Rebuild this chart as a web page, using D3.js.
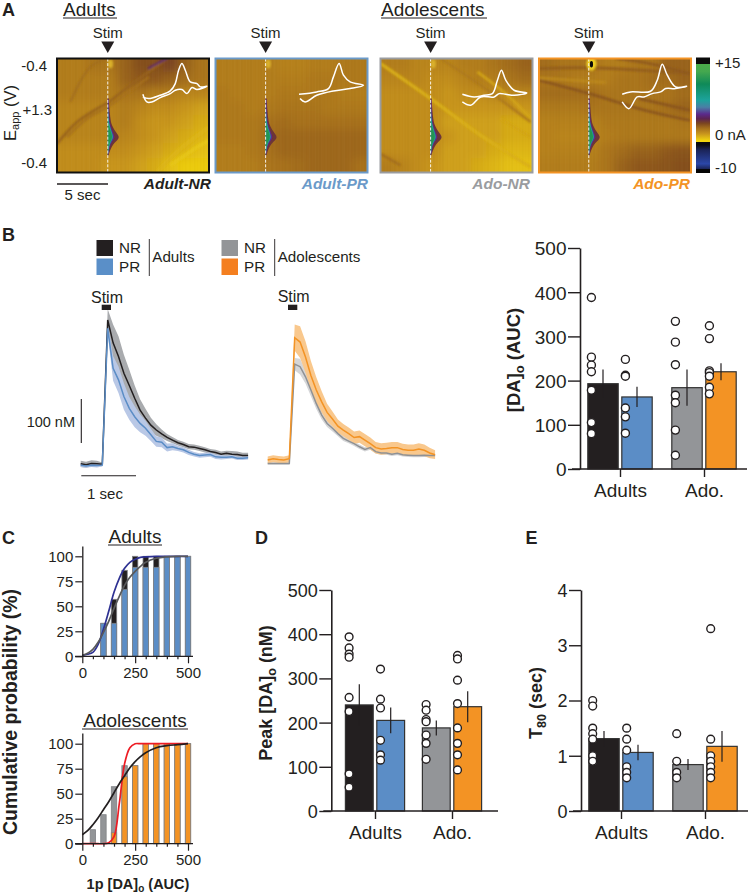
<!DOCTYPE html>
<html><head><meta charset="utf-8">
<script src="https://cdnjs.cloudflare.com/ajax/libs/d3/7.8.5/d3.min.js"></script>
<style>
html,body{margin:0;padding:0;background:#fff}
svg{display:block}
text{font-family:"Liberation Sans",Arial,sans-serif;fill:#231f20}
</style></head><body><svg id="c" width="748" height="895"></svg>
<script>
// ---------- data ----------
const groups=["Adults","Ado."], kinds=["NR","PR"];
const colBlack="#231f20",colBlue="#5b8dc6",colGrey="#939598",colOrange="#f39324";
const aucMeans=[193,163,184,220], aucErr=[32,23,41,19];
const aucPts=[[388,253,235,220,178,105,80],[248,212,210,138,118,81],[334,287,236,167,150,88,31],[324,295,222,218,210,185,170]];
const peakMeans=[240,205,188,236], peakErr=[47,29,17,35];
const peakPts=[[394,369,355,348,257,225,84,54],[321,253,233,160,127,115],[241,228,207,202,172,153,117],[352,344,296,243,188,153,127,93]];
const t80Means=[1.31,1.06,0.84,1.17], t80Err=[0.14,0.14,0.1,0.28];
const t80Pts=[[2.0,1.9,1.5,1.4,1.3,1.0,0.9],[1.5,1.3,1.1,0.8,0.7,0.6],[1.4,0.9,0.7,0.6],[3.3,1.3,1.0,0.9,0.8,0.7,0.6]];
// traces, one value per 0.1 s starting at -0.4 s
const traceTime=d3.range(-4,28).map(d=>d/10);
const trBlack=[1,-1,2,1,0,328,276,245,207,179,150,123,105,89,78,69,61,55,49,45,40,39,36,33,29,27,23,25,23,22,20,20];
const errBlack=[7,7,7,7,4,25,42,46,42,36,29,25,21,17,13,10,8,7,6,6,6,6,6,6,6,6,6,6,7,7,6,6];
const trBlue=[-2,-4,-2,-3,-2,309,218,192,154,127,108,93,82,67,52,50,38,40,36,33,27,23,20,21,22,17,16,16,17,14,14,15];
const errBlue=[4,4,4,4,3,12,28,30,30,26,24,20,17,14,12,11,9,8,6,6,6,5,5,5,5,5,5,4,4,4,4,4];
const trGrey2=[0,0,0,0,0,226,220,197,167,136,110,91,80,68,57,51,45,38,32,36,27,24,24,21,23,20,19,18,18,19,18,18];
const errGrey2=[3,3,3,3,3,14,18,15,14,12,10,8,7,6,6,5,5,5,5,5,4,4,4,4,4,4,4,4,4,4,4,4];
const trOrange=[8,11,9,8,11,286,276,242,200,167,140,116,101,85,76,68,59,61,53,45,36,33,34,36,36,32,30,30,33,30,24,20];
const errOrange=[8,8,8,8,8,30,36,36,33,29,24,20,17,15,14,14,14,14,14,14,13,13,13,13,13,13,13,13,13,13,12,10];
// cumulative probability
const binCentres=[50,100,150,200,250,300,350,400,450,500];
const cpBlack=[0,33,57,86,100,100,100,100,100,100];
const cpBlue=[0,33,33,67,89,89,89,100,100,100];
const cpGrey=[14,29,57,78,78,100,100,100,100,100];
const cpOrange=[0,0,11,67,78,100,100,100,100,100];
const fitX=[0,25,50,75,100,125,150,175,200,225,250,275,300,350,400,450,500];
const fitBlue=[1,2,4,12,27,45,64,78,88,94,97,99,99.5,100,100,100,100];
const fitGreyA=[1,3,7,14,24,35,48,60,71,79,85,90,94,98,99.5,100,100];
const fitRed=[0,0,0,0,0,1,7,40,80,96,100,100,100,100,100,100,100];
const fitBlackB=[9,13,19,26,34,42,51,60,68,76,82,87,91,96,98,99,100];
const cpTicks=[0,25,50,75,100];
// colour plot colour bar, position along the bar -> colour
const cbPos=[0,.055,.06,.12,.23,.37,.43,.49,.53,.57,.61,.66,.72,.73,.735,.755,.8,.92,.965,.97,1];
const cbCol=["#0a0a0a","#0a0a0a","#4bab4a","#45a84f","#0f8a58","#1da39c","#4a7fa5","#5b2a8c","#5c2352","#7b4520","#a36d1c","#c8951d","#f2d60f","#f2d60f","#0b0b12","#0b0b12","#1b2458","#2b47a8","#1b2458","#050505","#050505"];
// colour plot background (same position values), 8 rows x 10 columns
const heat1=[[.63,.63,.62,.62,.60,.58,.58,.57,.60,.62],[.63,.63,.63,.63,.60,.59,.59,.60,.61,.62],[.63,.63,.63,.63,.62,.62,.63,.63,.64,.64],[.64,.64,.64,.64,.63,.64,.65,.65,.66,.67],[.64,.64,.64,.64,.63,.65,.66,.66,.67,.68],[.64,.64,.64,.64,.64,.65,.66,.67,.68,.69],[.65,.65,.65,.65,.65,.66,.67,.68,.69,.70],[.65,.65,.65,.66,.66,.67,.68,.70,.71,.71]];
const heat2=[[.63,.63,.63,.63,.635,.635,.63,.63,.625,.625],[.63,.63,.63,.63,.63,.63,.625,.625,.625,.625],[.625,.63,.63,.63,.625,.625,.625,.625,.63,.63],[.625,.625,.63,.625,.62,.62,.62,.625,.625,.625],[.625,.625,.625,.615,.61,.615,.615,.615,.615,.615],[.625,.625,.625,.61,.605,.605,.605,.605,.605,.605],[.63,.63,.625,.615,.605,.605,.605,.605,.605,.605],[.63,.63,.63,.62,.615,.61,.605,.605,.605,.615]];
const heat3=[[.63,.63,.64,.64,.64,.63,.63,.62,.61,.60],[.64,.64,.64,.65,.65,.64,.63,.63,.62,.61],[.65,.65,.65,.65,.66,.65,.65,.64,.64,.64],[.65,.65,.65,.65,.66,.66,.66,.66,.66,.66],[.65,.65,.65,.65,.67,.67,.67,.67,.68,.68],[.65,.65,.65,.65,.66,.67,.67,.67,.68,.68],[.65,.65,.65,.65,.67,.67,.67,.68,.69,.69],[.63,.64,.65,.66,.67,.67,.68,.69,.70,.70]];
const heat4=[[.61,.62,.62,.62,.63,.63,.62,.62,.60,.60],[.62,.62,.63,.63,.63,.62,.62,.61,.61,.60],[.61,.61,.61,.61,.62,.62,.62,.62,.62,.61],[.625,.625,.625,.62,.62,.62,.62,.62,.61,.60],[.635,.635,.635,.635,.625,.625,.625,.625,.625,.62],[.635,.64,.64,.64,.63,.625,.625,.625,.625,.625],[.635,.635,.635,.635,.62,.61,.60,.60,.59,.585],[.63,.63,.63,.63,.62,.60,.59,.59,.585,.58]];
const texture=[.06,-.05,.03,.09,-.08,.02,-.03,.07,-.06,.04,-.09,.05,.01,-.04,.08,-.02,.03,-.07,.06,-.01,.04,-.05,.07];
// streaks: [position value, width, points]
const streaks1=[[.60,2.6,[[0,255],[60,190],[120,150],[155,130],[200,95],[260,50],[330,0]]],[.615,2.4,[[30,235],[90,180],[155,143],[215,100],[275,55]]],[.612,2.4,[[40,130],[100,25],[150,0]]],[.51,2,[[272,30],[300,15],[330,0]]],[.69,4,[[300,340],[370,270],[455,205]]],[.705,4,[[340,320],[420,265],[455,245]]]];
const streaks2=[];
const streaks3=[[.685,3.2,[[0,15],[150,120],[300,230],[450,325]]],[.625,2.6,[[180,0],[300,80],[450,190]]],[.61,2.6,[[0,285],[60,320]]],[.675,2.6,[[290,40],[380,110],[450,180]]],[.675,2.6,[[360,180],[450,235]]]];
const streaks4=[[.585,2.6,[[0,65],[150,105],[300,150],[452,185]]],[.595,3,[[0,30],[150,28],[452,45]]],[.645,2.6,[[0,58],[200,72]]],[.59,2.6,[[230,0],[330,15],[452,45]]],[.585,2.6,[[300,120],[452,155]]]];
// stim-evoked spot: distance below panel top, half widths of nested contours
const spotY=[120,150,175,200,220,235,245,260,290];
const spotOuter=[3,5,7,11,24,36,28,12,2];
const spotPurple=[2,3,4,7,15,22,16,6,1];
const spotTeal=[0,1,2,5,12,17,12,4,0];
const spotGreen=[0,0,0,2,10,14,10,2,0];
const contourCol=[.55,.49,.37,.19];
// voltammograms
const cv1=[[257,107],[269,130],[284,130],[309,117],[339,105],[354,95],[374,93],[389,105],[404,87],[419,93],[449,83],[429,85],[419,75],[399,70],[384,35],[374,15],[364,35],[354,75],[339,97],[309,110],[274,120],[257,115]];
const cv2=[[250,107],[303,100],[338,90],[353,55],[370,15],[383,50],[403,70],[443,80],[403,90],[353,97],[303,110],[268,130],[253,120]];
const cv3=[[245,107],[280,115],[310,110],[335,105],[350,65],[362,35],[375,65],[400,95],[438,103],[400,110],[375,107],[355,105],[340,115],[300,115],[270,140],[245,130]];
const cv4=[[249,107],[274,100],[334,98],[354,65],[369,17],[384,50],[409,85],[442,83],[409,90],[379,90],[364,100],[339,105],[314,115],[294,115],[269,150],[249,130]];

// ---------- helpers ----------
const svg=d3.select("#c");
const defs=svg.append("defs");
defs.append("filter").attr("id","blurBig").attr("x","-10%").attr("y","-10%").attr("width","120%").attr("height","120%").append("feGaussianBlur").attr("stdDeviation",5);
defs.append("filter").attr("id","blurMid").attr("x","-20%").attr("y","-20%").attr("width","140%").attr("height","140%").append("feGaussianBlur").attr("stdDeviation",1.1);
defs.append("filter").attr("id","blurSm").attr("x","-50%").attr("y","-20%").attr("width","200%").attr("height","140%").append("feGaussianBlur").attr("stdDeviation",.5);
const heatColor=d3.scaleLinear().domain(cbPos).range(cbCol).clamp(true);
function T(x,y,s,o={}){
  const t=svg.append("text").attr("x",x).attr("y",y).text(s)
   .attr("font-size",o.size||15).attr("text-anchor",o.anchor||"start");
  if(o.bold)t.attr("font-weight","bold");
  if(o.italic)t.attr("font-style","italic");
  if(o.fill)t.style("fill",o.fill);
  return t;
}
function L(x1,y1,x2,y2,w=1.2,c="#231f20"){svg.append("line").attr("x1",x1).attr("y1",y1).attr("x2",x2).attr("y2",y2).attr("stroke",c).attr("stroke-width",w);}

// ---------- panel A ----------
const panelW=152,panelH=114,panelTop=58.5;
function colourPlot(i,left,heat,streaks,cv,border,stimUnits,label,labelRight,hot){
  const g=svg.append("g").attr("transform",`translate(${left},${panelTop})`);
  const id="clip"+i;
  defs.append("clipPath").attr("id",id).append("rect").attr("width",panelW).attr("height",panelH);
  const body=g.append("g").attr("clip-path",`url(#${id})`);
  const sx=d3.scaleLinear().domain([0,455]).range([0,panelW]);
  const sy=d3.scaleLinear().domain([0,341]).range([0,panelH]);
  const cx=d3.scaleBand().domain(d3.range(10)).range([0,panelW]);
  const cy=d3.scaleBand().domain(d3.range(8)).range([0,panelH]);
  body.append("rect").attr("width",panelW).attr("height",panelH).attr("fill",heatColor(d3.mean(heat.flat())));
  const cells=body.append("g").attr("filter","url(#blurBig)");
  heat.forEach((row,r)=>row.forEach((v,c)=>{
    cells.append("rect").attr("x",cx(c)-(c==0?20:0)-.5).attr("y",cy(r)-(r==0?20:0)-.5)
      .attr("width",cx.bandwidth()+1+(c==0||c==9?20:0)).attr("height",cy.bandwidth()+1+(r==0||r==7?20:0))
      .attr("fill",heatColor(v));
  }));
  const ln=d3.line().x(d=>sx(d[0])).y(d=>sy(d[1])).curve(d3.curveCatmullRom);
  const st=body.append("g").attr("filter","url(#blurMid)");
  streaks.forEach(s=>st.append("path").attr("d",ln(s[2])).attr("fill","none").attr("stroke",heatColor(s[0])).attr("stroke-width",s[1]));
  // fine vertical texture
  const tx=d3.scaleBand().domain(d3.range(101)).range([0,panelW]);
  body.append("g").selectAll("rect").data(d3.range(101)).join("rect")
    .attr("x",d=>tx(d)).attr("width",tx.bandwidth()).attr("height",panelH)
    .attr("fill",d=>texture[(d+i*5)%texture.length]>0?"#fff":"#4a2a00")
    .attr("opacity",d=>Math.abs(texture[(d+i*5)%texture.length])*.22);
  // spot
  const a=(vals)=>d3.area().x0(sx(stimUnits)).x1((d,k)=>sx(stimUnits)+sx(vals[k])).y(d=>sy(d)).curve(d3.curveBasis)(spotY);
  const spot=body.append("g").attr("filter","url(#blurSm)");
  [spotOuter,spotPurple,spotTeal,spotGreen].forEach((v,k)=>spot.append("path").attr("d",a(v)).attr("fill",heatColor(contourCol[k])));
  // top spot
  body.append("ellipse").attr("cx",sx(stimUnits+8)).attr("cy",sy(16)).attr("rx",hot?5:2.6).attr("ry",hot?7:4.6).attr("fill",hot?"#f0d020":"#dab02a").attr("filter","url(#blurMid)");
  if(hot)body.append("ellipse").attr("cx",sx(stimUnits+8)).attr("cy",sy(17)).attr("rx",1.6).attr("ry",3.2).attr("fill","#0a0a0a");
  body.append("line").attr("x1",sx(stimUnits)).attr("x2",sx(stimUnits)).attr("y1",0).attr("y2",panelH).attr("stroke","#fff").attr("stroke-width",.9).attr("stroke-dasharray","3 1.6");
  const cvl=d3.line().x(d=>sx(d[0])).y(d=>sy(d[1])).curve(d3.curveCatmullRom);
  body.append("path").attr("d",cvl(cv)).attr("fill","none").attr("stroke","#fff").attr("stroke-width",1.5);
  g.append("rect").attr("width",panelW).attr("height",panelH).attr("fill","none").attr("stroke",border).attr("stroke-width",2);
  // Stim
  const sxp=left+sx(stimUnits);
  T(sxp,38,"Stim",{anchor:"middle",size:15});
  svg.append("path").attr("d",`M${sxp-6.5},41.5L${sxp+6.5},41.5L${sxp},53Z`).attr("fill","#231f20");
  T(labelRight,189,label,{anchor:"end",size:15.5,bold:true,italic:true,fill:border=="#111"?"#231f20":border});
}
colourPlot(1,57,heat1,streaks1,cv1,"#111",152,"Adult-NR",211);
colourPlot(2,215.5,heat2,streaks2,cv2,"#6b9ac9",150,"Adult-PR",368);
colourPlot(3,380.5,heat3,streaks3,cv3,"#9a9c9f",150,"Ado-NR",530);
colourPlot(4,539,heat4,streaks4,cv4,"#f39324",149,"Ado-PR",690,true);
// colour bar
const cbY=d3.scaleLinear().domain([0,1]).range([57.5,173]);
const cbG=defs.append("linearGradient").attr("id","cb").attr("x1",0).attr("x2",0).attr("y1",0).attr("y2",1);
cbPos.forEach((p,i)=>cbG.append("stop").attr("offset",p).attr("stop-color",cbCol[i]));
svg.append("rect").attr("x",696).attr("y",cbY(0)).attr("width",14).attr("height",cbY(1)-cbY(0)).attr("fill","url(#cb)");
T(715,68,"+15",{size:15});T(715,140,"0 nA",{size:15});T(715,173,"-10",{size:15});
T(2,16,"A",{size:18,bold:true});
T(63,16,"Adults",{size:19});L(63,18,117,18,1);
T(381,16,"Adolescents",{size:19});L(381,18,487,18,1);
T(47,71,"-0.4",{anchor:"end",size:15});T(52,115,"+1.3",{anchor:"end",size:15});T(47,168,"-0.4",{anchor:"end",size:15});
const eapp=svg.append("text").attr("transform","translate(16,141) rotate(-90)").attr("font-size",16.5);
eapp.append("tspan").text("E");eapp.append("tspan").text("app").attr("font-size",11).attr("dy",3);eapp.append("tspan").text(" (V)").attr("dy",-3);
L(57,184,108,184,1.3);T(82.5,200,"5 sec",{anchor:"middle",size:15});

// ---------- panel B ----------
T(2,241,"B",{size:18,bold:true});
function legend(sw,cols,line,title){
  svg.append("rect").attr("x",sw).attr("y",240).attr("width",16.5).attr("height",16).attr("fill",cols[0]);
  svg.append("rect").attr("x",sw).attr("y",258.5).attr("width",16.5).attr("height",16.5).attr("fill",cols[1]);
  T(sw+22.5,253,"NR",{size:15.2});T(sw+22.5,272,"PR",{size:15.2});
  L(line,239,line,276,.9);T(line+3,262,title,{size:15.2});
}
legend(96.5,[colBlack,"#5a8fc8"],149.3,"Adults");
legend(221.5,[colGrey,"#f47f20"],274.7,"Adolescents");
function traces(x0,base,c1,e1,band1,line1,c2,e2,band2,line2){
  const x=d3.scaleLinear().domain([0,1]).range([x0,x0+54]);
  const y=d3.scaleLinear().domain([0,100]).range([base,base-44]);
  const draw=(vals,errs,band)=>{
    svg.append("path").attr("d",d3.area().x((d,i)=>x(traceTime[i])).y0((d,i)=>y(d-errs[i])).y1((d,i)=>y(d+errs[i]))(vals)).attr("fill",band);
  };
  const dl=(vals,line)=>svg.append("path").attr("d",d3.line().x((d,i)=>x(traceTime[i])).y(d=>y(d))(vals)).attr("fill","none").attr("stroke",line).attr("stroke-width",1.5);
  draw(c1,e1,band1);draw(c2,e2,band2);
  dl(c1,line1);dl(c2,line2);
}
traces(102.3,464.3,trBlack,errBlack,"#a9abae",colBlack,trBlue,errBlue,"#b9c8e6","#5b8dc6");
traces(289.3,463.5,trGrey2,errGrey2,"#d5d6d8","#8f9194",trOrange,errOrange,"#f9c88d","#f39324");
T(107,303,"Stim",{anchor:"middle",size:16});T(293.7,301.5,"Stim",{anchor:"middle",size:16});
svg.append("rect").attr("x",101.7).attr("y",304.7).attr("width",9.3).attr("height",5.3).attr("fill",colBlack);
svg.append("rect").attr("x",288).attr("y",304.7).attr("width",9.3).attr("height",5.3).attr("fill",colBlack);
L(81.3,399,81.3,443,1.1);T(75,427,"100 nM",{anchor:"end",size:14.5});
L(81.3,475.7,136,475.7,1.1);T(105,499,"1 sec",{anchor:"middle",size:15});

// ---------- bar panels ----------
function barPanel(o){
  const g=svg.append("g");
  const y=d3.scaleLinear().domain([0,o.max]).range([o.y0,o.y1]);
  const xg=d3.scalePoint().domain(groups).range(o.ticks);
  const xk=d3.scalePoint().domain(kinds).range([-o.off,o.off]);
  const cols=[colBlack,colBlue,colGrey,colOrange];
  const recs=groups.flatMap((gr,i)=>kinds.map((k,j)=>({gr,k,idx:i*2+j})));
  const cx=d=>xg(d.gr)+xk(d.k);
  g.selectAll("rect.b").data(recs).join("rect").attr("x",d=>cx(d)-o.bw/2).attr("width",o.bw)
    .attr("y",d=>y(o.means[d.idx])).attr("height",d=>o.y0-y(o.means[d.idx]))
    .attr("fill",d=>cols[d.idx]).attr("stroke","#333").attr("stroke-width",1.2);
  g.selectAll("line.e").data(recs).join("line").attr("x1",cx).attr("x2",cx)
    .attr("y1",d=>y(o.means[d.idx]-o.errs[d.idx])).attr("y2",d=>y(o.means[d.idx]+o.errs[d.idx]))
    .attr("stroke",colBlack).attr("stroke-width",1.2);
  recs.forEach(d=>{
    g.append("g").selectAll("circle").data(o.pts[d.idx]).join("circle")
     .attr("cx",cx(d)-o.ptOff).attr("cy",v=>y(v)).attr("r",o.r)
     .attr("fill","#fff").attr("stroke",colBlack).attr("stroke-width",1.4);
  });
  const ax=g.append("g").attr("transform",`translate(${o.x0},0)`).call(d3.axisLeft(y).tickValues(o.yt).tickSize(12).tickSizeOuter(0).tickPadding(1.5).tickFormat(d3.format("d")));
  ax.selectAll("text").attr("font-size",o.fy).attr("dy",".36em");
  const bx=g.append("g").attr("transform",`translate(0,${o.y0})`).call(d3.axisBottom(xg).tickSize(8).tickSizeOuter(0).tickPadding(7));
  bx.select(".domain").remove();
  bx.selectAll("text").attr("font-size",19);
  g.selectAll(".tick line").attr("stroke",colBlack).attr("stroke-width",1.4);
  ax.select(".domain").attr("stroke",colBlack).attr("stroke-width",1.6);
  g.append("line").attr("x1",o.x0-8).attr("x2",o.xEnd).attr("y1",o.y0).attr("y2",o.y0).attr("stroke",colBlack).attr("stroke-width",1.6);
}
barPanel({max:500,y0:469,y1:248,x0:580,xEnd:747,ticks:[620,704],off:17,bw:30.4,ptOff:11.6,r:4,means:aucMeans,errs:aucErr,pts:aucPts,yt:[0,100,200,300,400,500],fy:19});
barPanel({max:500,y0:811,y1:590,x0:331.3,xEnd:498,ticks:[375,452],off:15.7,bw:27.8,ptOff:10.2,r:3.9,means:peakMeans,errs:peakErr,pts:peakPts,yt:[0,100,200,300,400,500],fy:18});
barPanel({max:4,y0:811,y1:590,x0:581,xEnd:748,ticks:[621,705],off:17,bw:30.4,ptOff:11.3,r:3.9,means:t80Means,errs:t80Err,pts:t80Pts,yt:[0,1,2,3,4],fy:18});
function ylab(x,y,parts,size){
  const t=svg.append("text").attr("transform",`translate(${x},${y}) rotate(-90)`).attr("text-anchor","middle").attr("font-size",size).attr("font-weight","bold");
  parts.forEach(p=>{const s=t.append("tspan").text(p[0]);if(p[1]){s.attr("font-size",size*.7).attr("dy",p[1]);}else if(p[2]){s.attr("dy",p[2]);}});
}
ylab(520,360,[["[DA]"],["o",4],[" (AUC)",0,-4]],18.5);
ylab(272,693,[["Peak [DA]"],["o",4],[" (nM)",0,-4]],18);
ylab(542,703,[["T"],["80",4],[" (sec)",0,-4]],18);
T(255,544,"D",{size:18,bold:true});T(525.5,544,"E",{size:18,bold:true});

// ---------- panel C ----------
T(2,544,"C",{size:18,bold:true});
function cumPanel(y0,y100,top,title,titleBase,backVals,frontVals,backCol,frontCol,fit1,c1,fit2,c2,ulx){
  const g=svg.append("g");
  const x=d3.scaleLinear().domain([0,500]).range([82.3,188]);
  const y=d3.scaleLinear().domain([0,100]).range([y0,y100]);
  const bw=5.4;
  [[backVals,backCol],[frontVals,frontCol]].forEach(([v,c])=>{
    g.append("g").selectAll("rect").data(binCentres.map((b,i)=>({b,v:v[i]})).filter(d=>d.v>0)).join("rect")
      .attr("x",d=>x(d.b)-bw/2).attr("width",bw).attr("y",d=>y(d.v)).attr("height",d=>y0-y(d.v))
      .attr("fill",c).attr("stroke","#808285").attr("stroke-width",.8);
  });
  const ln=d3.line().x((d,i)=>x(fitX[i])).y(d=>y(d)).curve(d3.curveCatmullRom);
  g.append("path").attr("d",ln(fit1)).attr("fill","none").attr("stroke",c1).attr("stroke-width",1.7);
  g.append("path").attr("d",ln(fit2)).attr("fill","none").attr("stroke",c2).attr("stroke-width",1.7);
  const ax=g.append("g").attr("transform","translate(82.3,0)").call(d3.axisLeft(d3.scaleLinear().domain([0,(y0-top)/(y0-y100)*100]).range([y0,top])).tickValues(cpTicks).tickSize(7).tickSizeOuter(0).tickPadding(2));
  ax.selectAll("text").attr("font-size",15);
  const bx=g.append("g").attr("transform",`translate(0,${y0})`).call(d3.axisBottom(x).tickValues([0,250,500]).tickSize(7).tickSizeOuter(0).tickPadding(4).tickFormat(d3.format("d")));
  bx.select(".domain").remove();
  bx.selectAll("text").attr("font-size",15);
  const mt=g.append("g").attr("transform",`translate(0,${y0})`).call(d3.axisBottom(x).tickValues(d3.range(50,500,50).filter(d=>d!=250)).tickSize(3).tickSizeOuter(0).tickFormat(""));
  mt.select(".domain").remove();
  g.selectAll(".tick line").attr("stroke",colBlack).attr("stroke-width",1.2);
  ax.select(".domain").attr("stroke",colBlack).attr("stroke-width",1.3);
  g.append("line").attr("x1",75).attr("x2",193).attr("y1",y0).attr("y2",y0).attr("stroke",colBlack).attr("stroke-width",1.3);
  T(135,titleBase,title,{anchor:"middle",size:19});
  L(ulx[0],titleBase+2,ulx[1],titleBase+2,1);
}
cumPanel(656.3,556.3,546,"Adults",543,cpBlack,cpBlue,colBlack,colBlue,fitBlue,"#2e3192",fitGreyA,"#58595b",[108,162]);
cumPanel(843.7,743.7,733,"Adolescents",727,cpGrey,cpOrange,colGrey,colOrange,fitRed,"#ed1c24",fitBlackB,"#231f20",[82,188]);
ylab(17,712,[["Cumulative probability (%)"]],19.5);
const lb=svg.append("text").attr("x",138).attr("y",889).attr("text-anchor","middle").attr("font-size",14.5).attr("font-weight","bold");
lb.append("tspan").text("1p [DA]");lb.append("tspan").text("o").attr("font-size",10).attr("dy",3);lb.append("tspan").text(" (AUC)").attr("dy",-3);
</script></body></html>
